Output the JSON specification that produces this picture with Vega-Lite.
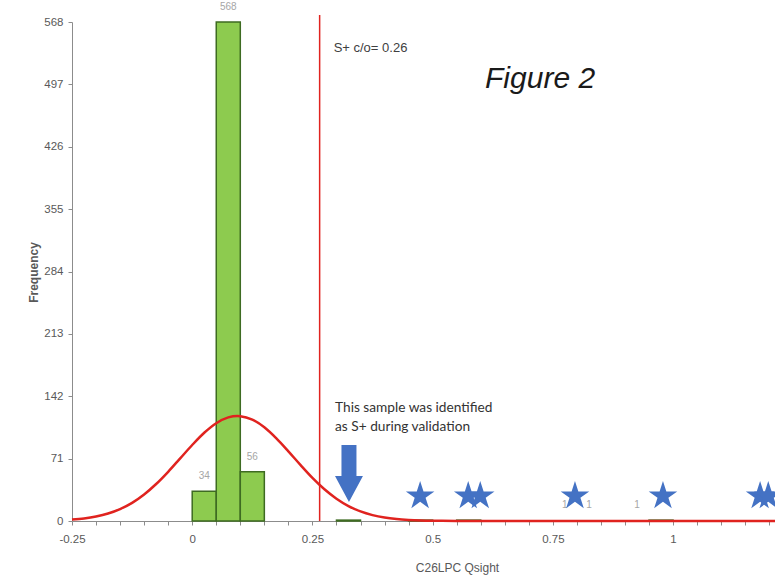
{
  "$schema": "https://vega.github.io/schema/vega-lite/v6.json",
  "width": 703,
  "height": 499,
  "autosize": {"type": "none"},
  "padding": {"left": 72, "top": 22, "right": 0, "bottom": 54},
  "background": "white",
  "config": {"view": {"stroke": null}},
  "resolve": {"axis": {"x": "independent"}},
  "datasets": {
    "bins": [
      {"start": 0, "end": 0.05, "count": 34},
      {"start": 0.05, "end": 0.1, "count": 568},
      {"start": 0.1, "end": 0.15, "count": 56},
      {"start": 0.3, "end": 0.35, "count": 1},
      {"start": 0.45, "end": 0.5, "count": 1},
      {"start": 0.55, "end": 0.6, "count": 1},
      {"start": 0.95, "end": 1.0, "count": 1}
    ],
    "labels": [
      {"x": 0.025, "count": 34, "label": "34"},
      {"x": 0.075, "count": 568, "label": "568"},
      {"x": 0.125, "count": 56, "label": "56"},
      {"x": 0.775, "count": 1, "label": "1"},
      {"x": 0.825, "count": 1, "label": "1"},
      {"x": 0.925, "count": 1, "label": "1"}
    ],
    "curve": [
      {"x": -0.25, "y": 1.6}, {"x": -0.225, "y": 2.9}, {"x": -0.2, "y": 5.1},
      {"x": -0.175, "y": 8.5}, {"x": -0.15, "y": 13.6}, {"x": -0.125, "y": 20.7},
      {"x": -0.1, "y": 30.2}, {"x": -0.075, "y": 42.1}, {"x": -0.05, "y": 56.0},
      {"x": -0.025, "y": 71.3}, {"x": 0, "y": 86.5}, {"x": 0.025, "y": 100.4},
      {"x": 0.05, "y": 111.3}, {"x": 0.075, "y": 117.9}, {"x": 0.094, "y": 119.5},
      {"x": 0.1, "y": 119.3}, {"x": 0.125, "y": 115.4}, {"x": 0.15, "y": 106.6},
      {"x": 0.175, "y": 94.0}, {"x": 0.2, "y": 79.3}, {"x": 0.225, "y": 63.9},
      {"x": 0.25, "y": 49.1}, {"x": 0.275, "y": 36.1}, {"x": 0.3, "y": 25.4},
      {"x": 0.325, "y": 17.0}, {"x": 0.35, "y": 10.9}, {"x": 0.375, "y": 6.7},
      {"x": 0.4, "y": 3.9}, {"x": 0.425, "y": 2.2}, {"x": 0.45, "y": 1.2},
      {"x": 0.475, "y": 0.6}, {"x": 0.5, "y": 0.3}, {"x": 0.55, "y": 0.1},
      {"x": 0.6, "y": 0}, {"x": 0.7, "y": 0}, {"x": 0.8, "y": 0}, {"x": 0.9, "y": 0},
      {"x": 1.0, "y": 0}, {"x": 1.1, "y": 0}, {"x": 1.212, "y": 0}
    ],
    "cutoff": [{"x": 0.265, "label": "S+ c/o= 0.26"}],
    "stars": [
      {"x": 0.474, "y": 30}, {"x": 0.574, "y": 30}, {"x": 0.599, "y": 30},
      {"x": 0.796, "y": 30}, {"x": 0.979, "y": 30}, {"x": 1.181, "y": 30}, {"x": 1.198, "y": 30}
    ],
    "arrow": [{"x": 0.326, "y": 54}],
    "notes": [
      {"x": 0.297, "y": 137, "text": ["This sample was identified", "as S+ during validation"], "kind": "note"},
      {"x": 0.609, "y": 493, "text": ["Figure 2"], "kind": "figure"}
    ]
  },
  "layer": [
    {
      "data": {"name": "bins"},
      "mark": {"type": "rect", "fill": "#8DCB4F", "stroke": "#3E6B22", "strokeWidth": 1.5},
      "encoding": {
        "x": {
          "field": "start", "type": "quantitative",
          "scale": {"domain": [-0.25, 1.212], "nice": false, "zero": false},
          "axis": {
            "orient": "bottom",
            "values": [-0.25, 0, 0.25, 0.5, 0.75, 1],
            "labelExpr": "toString(datum.value)",
            "labelFlush": false, "labelOverlap": false, "grid": false,
            "domainColor": "#8c8c8c", "tickColor": "#8c8c8c", "tickSize": 4,
            "labelPadding": 8, "labelColor": "#595959", "labelFont": "Liberation Sans", "labelFontSize": 11.5,
            "title": "C26LPC Qsight", "titleFont": "Liberation Sans", "titleFontWeight": "normal",
            "titleFontSize": 12, "titleColor": "#595959", "titleX": 385, "titleY": 46, "titleBaseline": "middle"
          }
        },
        "x2": {"field": "end"},
        "y": {
          "field": "count", "type": "quantitative",
          "scale": {"domain": [0, 568], "nice": false},
          "axis": {
            "values": [0, 71, 142, 213, 284, 355, 426, 497, 568],
            "grid": false, "domainColor": "#8c8c8c", "tickColor": "#8c8c8c", "tickSize": 4,
            "labelPadding": 5, "labelColor": "#595959", "labelFont": "Liberation Sans", "labelFontSize": 11.5,
            "title": "Frequency", "titleFont": "Liberation Sans", "titleFontWeight": "bold",
            "titleFontSize": 12, "titleColor": "#595959", "titleX": -39, "titleY": 250,
            "titleAngle": -90, "titleBaseline": "middle", "titleAlign": "center"
          }
        },
        "y2": {"datum": 0}
      }
    },
    {
      "data": {"name": "labels"},
      "mark": {"type": "text", "baseline": "bottom", "dy": -10, "fontSize": 10, "font": "Liberation Sans", "color": "#a6a6a6"},
      "encoding": {
        "x": {"field": "x", "type": "quantitative", "axis": null},
        "y": {"field": "count", "type": "quantitative"},
        "text": {"field": "label"}
      }
    },
    {
      "data": {"name": "curve"},
      "mark": {"type": "line", "color": "#E0231F", "strokeWidth": 2.5, "interpolate": "monotone"},
      "encoding": {
        "x": {
          "field": "x", "type": "quantitative",
          "axis": {
            "orient": "bottom",
            "values": [-0.2, -0.15, -0.1, -0.05, 0.05, 0.1, 0.15, 0.2, 0.3, 0.35, 0.4, 0.45, 0.55, 0.6, 0.65, 0.7, 0.8, 0.85, 0.9, 0.95, 1.05, 1.1, 1.15, 1.2],
            "labels": false, "domain": false, "grid": false, "title": null,
            "tickColor": "#8c8c8c", "tickSize": 4
          }
        },
        "y": {"field": "y", "type": "quantitative"}
      }
    },
    {
      "data": {"name": "cutoff"},
      "mark": {"type": "rule", "color": "#E0231F", "strokeWidth": 1.5},
      "encoding": {
        "x": {"field": "x", "type": "quantitative", "axis": null},
        "y": {"datum": 0},
        "y2": {"datum": 576}
      }
    },
    {
      "data": {"name": "cutoff"},
      "mark": {"type": "text", "align": "left", "baseline": "middle", "dx": 14, "fontSize": 13, "font": "Liberation Sans", "color": "#404040"},
      "encoding": {
        "x": {"field": "x", "type": "quantitative", "axis": null},
        "y": {"datum": 538},
        "text": {"field": "label"}
      }
    },
    {
      "data": {"name": "stars"},
      "mark": {"type": "point", "filled": true, "opacity": 1, "size": 900, "color": "#4472C4",
        "shape": "M0,-0.905L0.225,-0.214L0.951,-0.214L0.363,0.213L0.588,0.904L0,0.477L-0.588,0.904L-0.363,0.213L-0.951,-0.214L-0.225,-0.214Z"},
      "encoding": {
        "x": {"field": "x", "type": "quantitative", "axis": null},
        "y": {"field": "y", "type": "quantitative"}
      }
    },
    {
      "data": {"name": "arrow"},
      "mark": {"type": "point", "filled": true, "opacity": 1, "size": 3249, "color": "#4472C4",
        "shape": "M-0.263,-1L0.263,-1L0.263,0.088L0.49,0.088L0,1L-0.49,0.088L-0.263,0.088Z"},
      "encoding": {
        "x": {"field": "x", "type": "quantitative", "axis": null},
        "y": {"field": "y", "type": "quantitative"}
      }
    },
    {
      "data": {"name": "notes"},
      "transform": [{"filter": "datum.kind == 'note'"}],
      "mark": {"type": "text", "align": "left", "baseline": "top", "fontSize": 13.7, "lineHeight": 19, "font": "Lato", "color": "#333333"},
      "encoding": {
        "x": {"field": "x", "type": "quantitative", "axis": null},
        "y": {"field": "y", "type": "quantitative"},
        "text": {"field": "text"}
      }
    },
    {
      "data": {"name": "notes"},
      "transform": [{"filter": "datum.kind == 'figure'"}],
      "mark": {"type": "text", "align": "left", "baseline": "alphabetic", "fontSize": 30, "fontStyle": "italic", "font": "Liberation Sans", "color": "#1a1a1a"},
      "encoding": {
        "x": {"field": "x", "type": "quantitative", "axis": null},
        "y": {"field": "y", "type": "quantitative"},
        "text": {"field": "text"}
      }
    }
  ]
}
